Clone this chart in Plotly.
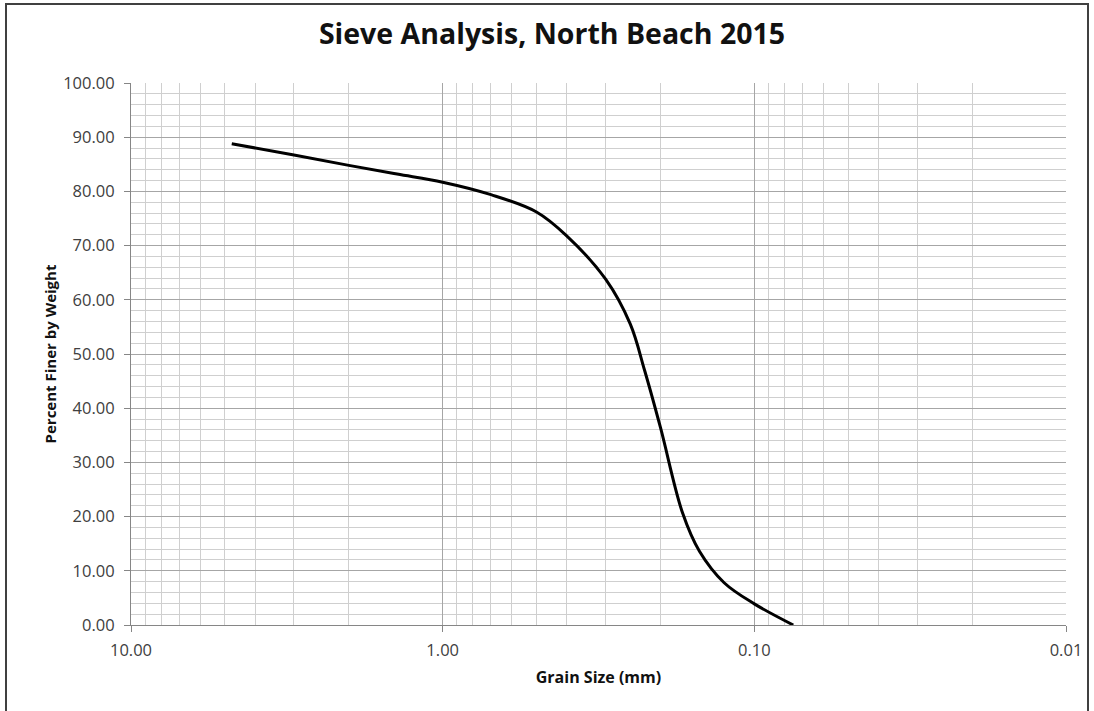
import plotly.graph_objects as go

# Grain size (mm) and percent finer
grain_size = [4.75, 3.0, 2.0, 1.4, 1.0, 0.7, 0.5, 0.4, 0.3, 0.25, 0.225,
              0.2, 0.17, 0.15, 0.125, 0.1, 0.075]
percent_finer = [88.8, 86.7, 84.8, 83.2, 81.7, 79.4, 76.2, 71.8, 63.8, 55.5, 47.0,
                 36.4, 20.7, 13.6, 7.8, 3.9, 0.0]

x_major = [10, 1, 0.1, 0.01]
x_major_text = ["10.00", "1.00", "0.10", "0.01"]
x_minor = [m * d for d in (1, 0.1, 0.01) for m in range(2, 10)]
y_major = list(range(0, 101, 10))
y_major_text = [f"{v:.2f}" for v in y_major]

FONT = "'Open Sans', Lato, sans-serif"

fig = go.Figure()
fig.add_trace(go.Scatter(
    x=grain_size, y=percent_finer, mode="lines",
    line=dict(color="black", width=3, shape="spline", smoothing=1.0),
    showlegend=False, hoverinfo="x+y",
))

fig.update_layout(
    width=1094, height=711,
    paper_bgcolor="white", plot_bgcolor="white",
    margin=dict(l=131, r=28, t=83, b=86),
    title=dict(text="<b>Sieve Analysis, North Beach 2015</b>", x=552 / 1094, xref="container",
               xanchor="center", y=1 - 34 / 711, yanchor="middle",
               font=dict(family=FONT, size=28.5, color="#111111")),
    font=dict(family=FONT, color="#595959"),
)

fig.update_xaxes(
    type="log", range=[1, -2], autorange=False,
    tickmode="array", tickvals=x_major, ticktext=x_major_text,
    tickfont=dict(size=16.5, color="#404040"),
    ticks="outside", ticklen=6, tickcolor="#868686", ticklabelstandoff=4,
    showgrid=True, gridcolor="#a6a6a6", gridwidth=1,
    showline=True, linecolor="#868686", linewidth=1, mirror=False,
    zeroline=False,
    minor=dict(tickmode="array", tickvals=x_minor, showgrid=True,
               gridcolor="#cfcfcf", gridwidth=1, ticks=""),
    title=dict(text="<b>Grain Size (mm)</b>", standoff=12,
               font=dict(size=16, color="#111111")),
)
fig.update_yaxes(
    range=[0, 100], autorange=False,
    tickmode="array", tickvals=y_major, ticktext=y_major_text,
    tickfont=dict(size=16.5, color="#404040"),
    ticks="outside", ticklen=6, tickcolor="#868686", ticklabelstandoff=6,
    showgrid=True, gridcolor="#a6a6a6", gridwidth=1,
    showline=True, linecolor="#868686", linewidth=1,
    zeroline=False,
    minor=dict(dtick=2, showgrid=True, gridcolor="#cfcfcf", gridwidth=1, ticks=""),
    title=dict(text="<b>Percent Finer by Weight</b>", standoff=2,
               font=dict(size=15, color="#111111")),
)

# outer chart border
pw, ph = 1094 - 131 - 28, 711 - 83 - 86
fig.add_shape(type="rect", xref="paper", yref="paper",
              x0=(6 - 131) / pw, x1=(1088 - 131) / pw,
              y0=(625 - 716) / ph, y1=(625 - 4) / ph,
              line=dict(color="#404040", width=2), fillcolor="rgba(0,0,0,0)",
              layer="above")

fig.write_html("out.html", config={"displayModeBar": False},
               post_script="document.body.style.margin='0';document.body.style.overflow='hidden';")
